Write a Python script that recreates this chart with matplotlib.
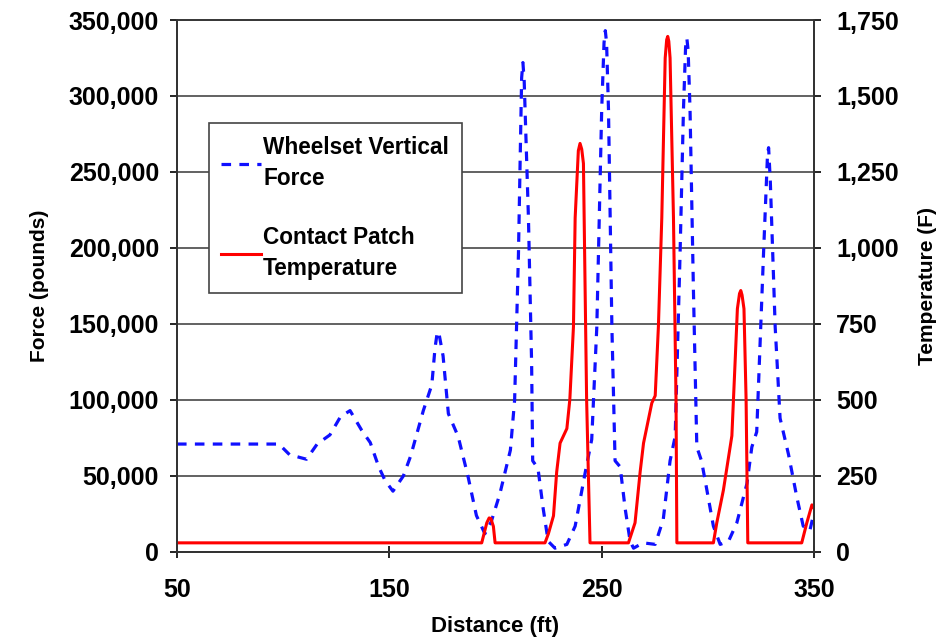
"""Wheelset vertical force and contact patch temperature along the track."""

import matplotlib

matplotlib.use("Agg")
import matplotlib.pyplot as plt
from matplotlib.ticker import FuncFormatter

# wheelset vertical force (pounds) vs distance (ft)
force_dist = [
    50, 98, 103, 111, 116, 122, 127, 131.5, 137, 141, 145, 148, 151.7, 156.6,
    160, 166, 170, 171.5, 172.4, 173.2, 175.3, 177.8, 182.4, 187, 191, 195,
    198, 202, 207, 209, 210.8, 212.3, 212.9, 213.5, 215.5, 217, 217.5, 220,
    222.4, 224.8, 228, 233.6, 237.5, 242.2, 245.3, 247.7, 250, 251.1, 251.7,
    252.3, 253.2, 254.8, 256.3, 258.7, 261, 263.4, 265, 269.5, 275.2, 279,
    282.2, 284.6, 286.9, 288.5, 289.5, 290.1, 290.7, 291.6, 293.2, 294.8, 297,
    299.5, 302.6, 305.8, 309.7, 313.6, 318.4, 320.7, 323, 326.2, 328.1, 328.6,
    329.4, 331.7, 334, 338, 341.9, 344.9, 348, 350,
]
force_lbs = [
    71000, 71000, 64000, 61000, 71000, 77000, 89000, 93000, 80000, 72000,
    56000, 47000, 40000, 50000, 63000, 93000, 110000, 134000, 143000, 145000,
    129000, 91000, 76000, 50000, 24000, 12000, 20000, 38000, 67000, 100000,
    196000, 312000, 322000, 310000, 220000, 124000, 60000, 55000, 29000, 7000,
    2500, 5000, 17000, 52000, 74000, 148000, 291000, 335000, 343000, 335000,
    291000, 148000, 60000, 56000, 29000, 7000, 2500, 6000, 5000, 21500, 60000,
    76000, 196000, 291000, 332000, 338000, 330000, 291000, 172000, 69000,
    60000, 41000, 17000, 5000, 7000, 19000, 45000, 69000, 79000, 196000,
    262000, 266000, 244000, 148000, 88000, 64000, 36000, 17000, 14000, 26000,
]

# contact patch temperature (F) vs distance (ft)
temp_dist = [
    50, 193.5, 195.9, 197.0, 197.8, 199, 199.8, 223.3, 224.9, 227.3, 228.8,
    230.4, 233.6, 235, 236.7, 237.5, 239.0, 239.8, 240.6, 241.4, 242.2, 242.9,
    243.7, 244.5, 262.6, 265.7, 268.1, 269.7, 273.6, 275.2, 276.7, 278.3,
    279.9, 280.6, 281.1, 281.6, 282.2, 283.8, 285, 285.4, 302.6, 304.2, 307.3,
    311.3, 312.8, 313.9, 314.9, 315.5, 316.1, 317, 318, 318.8, 344.2, 346.6,
    349, 350,
]
temp_f = [
    30, 30, 96, 112, 110, 84, 30, 30, 60, 119, 263, 358, 406, 502, 741, 1099,
    1320, 1344, 1325, 1278, 860, 502, 263, 30, 30, 96, 263, 358, 490, 514, 741,
    1099, 1625, 1685, 1696, 1680, 1625, 1099, 502, 30, 30, 96, 203, 382, 621,
    800, 850, 860, 845, 800, 502, 30, 30, 96, 155, 143,
]

x_ticks = [50, 150, 250, 350]
force_ticks = list(range(0, 350001, 50000))
temp_ticks = list(range(0, 1751, 250))

plt.rcParams["font.family"] = ["Liberation Sans", "DejaVu Sans"]
plt.rcParams["font.weight"] = "bold"

comma = FuncFormatter(lambda v, _: f"{int(v):,}")

fig = plt.figure(figsize=(9.48, 6.39), dpi=100)
ax = fig.add_axes([0.1867, 0.1362, 0.672, 0.8325])
ax2 = ax.twinx()

(force_line,) = ax.plot(force_dist, force_lbs, color="#1010ff", lw=2.3,
                        dashes=(3, 2.6), dash_joinstyle="round",
                        label="Wheelset Vertical\nForce")
(temp_line,) = ax2.plot(temp_dist, temp_f, color="#ff0000", lw=2.2,
                        solid_joinstyle="round",
                        label="Contact Patch\nTemperature")

ax.set_xlim(50, 350)
ax.set_ylim(0, 350000)
ax2.set_ylim(0, 1750)
ax.set_xticks(x_ticks)
ax.set_yticks(force_ticks)
ax2.set_yticks(temp_ticks)
ax.yaxis.set_major_formatter(comma)
ax2.yaxis.set_major_formatter(comma)

ax.grid(True, axis="y", color="#555555", lw=1.3)
ax.set_axisbelow(True)
for a in (ax, ax2):
    for side in a.spines.values():
        side.set_color("#333333")
        side.set_linewidth(1.3)
ax.spines["top"].set_color("#777777")

ax.tick_params(axis="x", direction="inout", length=8, width=1.2, pad=15,
               labelsize=18)
ax.tick_params(axis="y", direction="out", length=5, width=1.2, pad=8,
               labelsize=18)
ax2.tick_params(axis="y", direction="out", length=5, width=1.2, pad=11,
                labelsize=18)

ax.set_xlabel("Distance (ft)", fontsize=16, fontweight="bold", labelpad=10)
ax.set_ylabel("Force (pounds)", fontsize=15, fontweight="bold", labelpad=14)
ax2.set_ylabel("Temperature (F)", fontsize=15, fontweight="bold", labelpad=14)

leg = ax2.legend(handles=[force_line, temp_line], loc="upper left",
                 bbox_to_anchor=(0.05, 0.806), borderaxespad=0,
                 fancybox=False, framealpha=1, edgecolor="#444444",
                 prop={"size": 16.3, "weight": "bold"},
                 handlelength=1.75, handletextpad=0.1, labelspacing=1.6,
                 borderpad=0.55)
leg.get_frame().set_linewidth(1.2)
for t in leg.get_texts():
    t.set_linespacing(1.45)

fig.savefig("out.png", dpi=100, facecolor="white")
plt.close(fig)
